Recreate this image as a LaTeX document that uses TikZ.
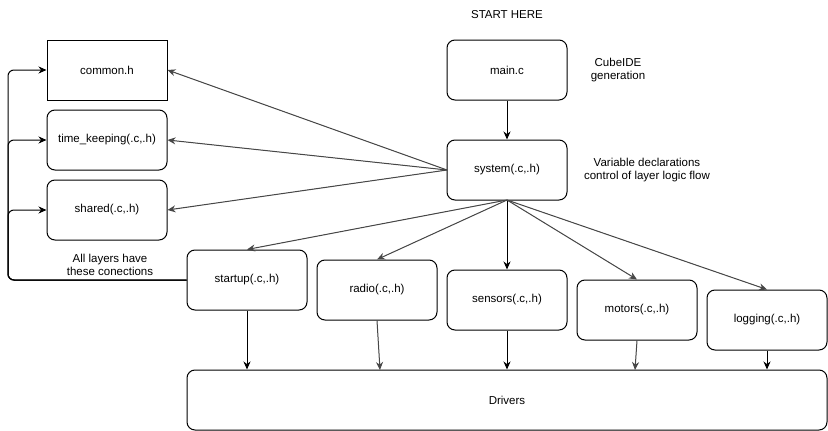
\documentclass[tikz,border=0pt]{standalone}
\usepackage{fontspec}
\setmainfont{Liberation Sans}
\usetikzlibrary{arrows.meta}
\begin{document}
\begin{tikzpicture}[x=1pt,y=-1pt,
  box/.style={draw=black,line width=1pt,rounded corners=8pt,minimum width=120pt,minimum height=60pt,inner sep=0pt,font=\fontsize{11.5}{13.5}\selectfont},
  sqbox/.style={box,rounded corners=0pt},
  lbl/.style={font=\fontsize{11.5}{13.5}\selectfont,align=center,inner sep=0pt},
  arr/.style={-{Stealth[length=8pt,width=7pt]},line width=1pt},
  garr/.style={arr,draw=black!72,fill=black!72}]
\useasboundingbox (0,0) rectangle (828,431);
\node[sqbox] (common) at (107,70) {common.h};
\node[box] (time) at (107,140) {time\_keeping(.c,.h)};
\node[box] (shared) at (107,210) {shared(.c,.h)};
\node[box] (main) at (507,70) {main.c};
\node[box] (system) at (507,170) {system(.c,.h)};
\node[box] (startup) at (247,280) {startup(.c,.h)};
\node[box] (radio) at (377,290) {radio(.c,.h)};
\node[box] (sensors) at (507,300) {sensors(.c,.h)};
\node[box] (motors) at (637,310) {motors(.c,.h)};
\node[box] (logging) at (767,320) {logging(.c,.h)};
\node[box,minimum width=640pt] (drivers) at (507,400) {Drivers};
\node[lbl] (start) at (507,15) {START HERE};
\node[lbl] (cube) at (618,70) {CubeIDE\\generation};
\node[lbl] (vardecl) at (647,170) {Variable declarations\\control of layer logic flow};
\node[lbl] (all) at (110,265) {All layers have\\these conections};
\coordinate (sysL) at (447,170);
\coordinate (sysB) at (507,200);
\draw[arr] (main) -- (system);
\draw[garr] (sysL) -- (common.east);
\draw[garr] (sysL) -- (time.east);
\draw[garr] (sysL) -- (shared.east);
\draw[garr] (sysB) -- (startup.north);
\draw[garr] (sysB) -- (radio.north);
\draw[arr] (sysB) -- (sensors.north);
\draw[garr] (sysB) -- (motors.north);
\draw[garr] (sysB) -- (logging.north);
\draw[arr] (startup.south) -- (startup.south |- drivers.north);
\draw[garr] (radio.south) -- (380,370);
\draw[arr] (sensors.south) -- (sensors.south |- drivers.north);
\draw[garr] (motors.south) -- (635,370);
\draw[arr] (logging.south) -- (logging.south |- drivers.north);
\draw[arr,rounded corners=6pt] (startup.west) -- (8,280) -- (8,70) -- (common.west);
\draw[arr,rounded corners=6pt] (startup.west) -- (8,280) -- (8,140) -- (time.west);
\draw[arr,rounded corners=6pt] (startup.west) -- (8,280) -- (8,210) -- (shared.west);
\end{tikzpicture}
\end{document}
